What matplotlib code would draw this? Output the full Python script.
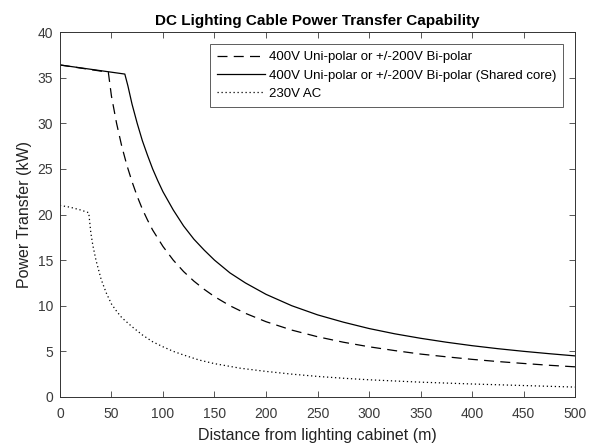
import matplotlib
matplotlib.use("Agg")
import matplotlib.pyplot as plt

plt.rcParams['font.family'] = ['Liberation Sans', 'DejaVu Sans']

# values
dist_bipolar = [0, 47, 50, 55, 60, 65, 70, 75, 80, 85, 90, 95, 100, 110, 120, 130, 140, 150,
                165, 180, 200, 225, 250, 275, 300, 325, 350, 375, 400, 425, 450, 475, 500]
power_bipolar = [36.4, 35.6, 33.0, 30.0, 27.5, 25.4, 23.6, 22.0, 20.6, 19.4, 18.3, 17.4, 16.5, 15.0,
                 13.75, 12.7, 11.8, 11.0, 10.0, 9.17, 8.25, 7.33, 6.6, 6.0, 5.5, 5.08, 4.7, 4.4,
                 4.12, 3.88, 3.67, 3.47, 3.3]

dist_shared = [0, 63, 66, 70, 75, 80, 85, 90, 95, 100, 110, 120, 130, 140, 150, 165, 180, 200,
               225, 250, 275, 300, 325, 350, 375, 400, 425, 450, 475, 500]
power_shared = [36.4, 35.4, 34.1, 32.1, 30.0, 28.1, 26.5, 25.0, 23.7, 22.5, 20.5, 18.75, 17.3, 16.1,
                15.0, 13.6, 12.5, 11.25, 10.0, 9.0, 8.2, 7.5, 6.92, 6.43, 6.0, 5.62, 5.29, 5.0,
                4.74, 4.5]

dist_ac = [0, 10, 20, 28, 30, 32, 35, 40, 45, 50, 55, 60, 70, 80, 90, 100, 110, 120, 135, 150,
           175, 200, 225, 250, 275, 300, 350, 400, 450, 500]
power_ac = [21.0, 20.8, 20.5, 20.2, 18.0, 16.6, 15.0, 12.9, 11.4, 10.2, 9.4, 8.7, 7.7, 6.8, 6.05,
            5.5, 5.0, 4.6, 4.05, 3.65, 3.15, 2.8, 2.5, 2.25, 2.05, 1.88, 1.62, 1.42, 1.25, 1.08]

labels = ["400V Uni-polar or +/-200V Bi-polar",
          "400V Uni-polar or +/-200V Bi-polar (Shared core)",
          "230V AC"]

fig = plt.figure(figsize=(5.93, 4.46), dpi=100)
ax = fig.add_axes([0.101, 0.110, 0.869, 0.818])

ax.plot(dist_bipolar, power_bipolar, color='k', lw=0.9, linestyle=(0, (8, 5)), label=labels[0])
ax.plot(dist_shared, power_shared, color='k', lw=0.9, linestyle='-', label=labels[1])
ax.plot(dist_ac, power_ac, color='k', lw=0.9, linestyle=(0, (1, 2.2)), label=labels[2])

ax.set_xlim(0, 500)
ax.set_ylim(0, 40)
ax.set_xticks(range(0, 501, 50))
ax.set_yticks(range(0, 41, 5))
ax.tick_params(direction='in', top=True, right=True, length=4, width=0.6,
               labelsize=10, colors='#3a3a3a', pad=5)
ax.tick_params(axis='x', pad=7)
for s in ax.spines.values():
    s.set_linewidth(0.7)
    s.set_color('#333333')

ax.set_xlabel("Distance from lighting cabinet (m)", fontsize=11.5, color='#222222', labelpad=5)
ax.set_ylabel("Power Transfer (kW)", fontsize=11.5, color='#222222', labelpad=4)
ax.set_title("DC Lighting Cable Power Transfer Capability", fontsize=11, fontweight='bold', pad=5)

leg = ax.legend(loc='upper right', fontsize=9.5, frameon=True, fancybox=False,
                edgecolor='#333333', handlelength=3.6, handletextpad=0.3,
                borderpad=0.55, labelspacing=0.45, borderaxespad=0.9)
leg.get_frame().set_linewidth(0.7)

fig.savefig("out.png", dpi=100)
